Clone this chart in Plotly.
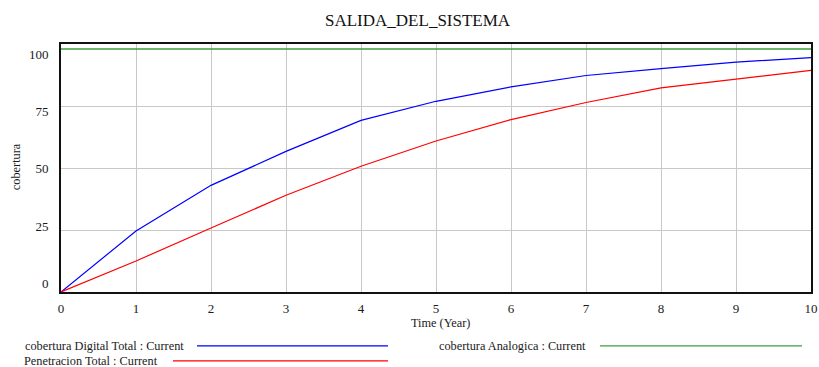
import plotly.graph_objects as go

# Simulation output, one value per year
years = [0, 1, 2, 3, 4, 5, 6, 7, 8, 9, 10]
cobertura_digital_total = [0, 24.6, 43.0, 56.7, 69.2, 76.9, 82.7, 87.3, 90.1, 92.7, 94.5]
penetracion_total = [0, 12.5, 25.8, 39.0, 50.7, 60.9, 69.5, 76.4, 82.3, 86.0, 89.4]
cobertura_analogica = [98, 98, 98, 98, 98, 98, 98, 98, 98, 98, 98]

y_ticks = [0, 25, 50, 75, 100]
x_ticks = list(range(0, 11))

series_names = [
    "cobertura Digital Total : Current",
    "Penetracion Total : Current",
    "cobertura Analogica : Current",
]
series_colors = ["#0000FF", "#FF0000", "#3C9E3C"]

FONT = "Liberation Serif"
TEXT = "#1a1a1a"

# plot area in pixels
PX_L, PX_R, PX_T, PX_B = 61, 811, 44, 291.7
W, H = 819, 367


def px_to_paper(px, py):
    return (px - PX_L) / (PX_R - PX_L), (PX_B - py) / (PX_B - PX_T)


def label(text, px, py, size=12.3, xanchor="center", angle=0, color=TEXT):
    x, y = px_to_paper(px, py)
    return dict(text=text, x=x, y=y, xref="paper", yref="paper",
                xanchor=xanchor, yanchor="middle", textangle=angle, showarrow=False,
                font=dict(family=FONT, size=size, color=color))


fig = go.Figure()
for ys, name, color, width in [
    (cobertura_analogica, series_names[2], series_colors[2], 1.6),
    (cobertura_digital_total, series_names[0], series_colors[0], 1.2),
    (penetracion_total, series_names[1], series_colors[1], 1.2),
]:
    fig.add_trace(go.Scatter(x=years, y=ys, mode="lines", name=name,
                             line=dict(color=color, width=width), showlegend=False))

# invisible trace that carries the tick labels on the second y axis
fig.add_trace(go.Scatter(x=[0], y=[0], yaxis="y2", mode="markers",
                         marker=dict(opacity=0), showlegend=False, hoverinfo="skip"))

fig.update_layout(
    width=W, height=H, autosize=False,
    margin=dict(l=PX_L, r=W - PX_R, t=PX_T, b=H - PX_B, pad=0),
    paper_bgcolor="white", plot_bgcolor="white",
    font=dict(family=FONT, size=13, color=TEXT),
    xaxis=dict(
        range=[0, 10], tickvals=x_ticks, showgrid=True, gridcolor="#C8C8C8", gridwidth=1,
        zeroline=False, showline=True, linecolor="#111111", linewidth=2, mirror=True,
        ticks="outside", ticklen=3, tickcolor="rgba(0,0,0,0)", automargin=False,
        tickfont=dict(family=FONT, size=13, color=TEXT),
    ),
    yaxis=dict(
        range=[0, 100], tickvals=y_ticks, showgrid=True, gridcolor="#C8C8C8", gridwidth=1,
        zeroline=False, showline=True, linecolor="#111111", linewidth=2, mirror=True,
        showticklabels=False, ticks="", automargin=False,
    ),
    yaxis2=dict(
        overlaying="y", side="left", range=[-3.66, 104.4], tickvals=y_ticks,
        showgrid=False, zeroline=False, showline=False, automargin=False,
        ticks="outside", ticklen=9, tickcolor="rgba(0,0,0,0)",
        tickfont=dict(family=FONT, size=13, color=TEXT),
    ),
    showlegend=False,
)

annotations = [
    label("SALIDA_DEL_SISTEMA", 418, 21, size=17, color="#111111"),
    label("Time (Year)", 440, 322.5),
    label("cobertura", 16, 167, angle=-90),
]

# legend entries: label, then a colour sample line
legend_rows = [
    (series_names[0], series_colors[0], 186, 345.5, 197, 388),
    (series_names[1], series_colors[1], 160, 360.5, 173, 388),
    (series_names[2], series_colors[2], 588, 345.5, 600, 802),
]
shapes = []
for name, color, text_right, row_y, line_x0, line_x1 in legend_rows:
    annotations.append(label(name, text_right, row_y, xanchor="right"))
    x0, ly = px_to_paper(line_x0, row_y)
    x1, _ = px_to_paper(line_x1, row_y)
    shapes.append(dict(type="line", xref="paper", yref="paper", x0=x0, x1=x1, y0=ly, y1=ly,
                       line=dict(color=color, width=1.2)))

fig.update_layout(annotations=annotations, shapes=shapes)
fig.write_html("out.html")
